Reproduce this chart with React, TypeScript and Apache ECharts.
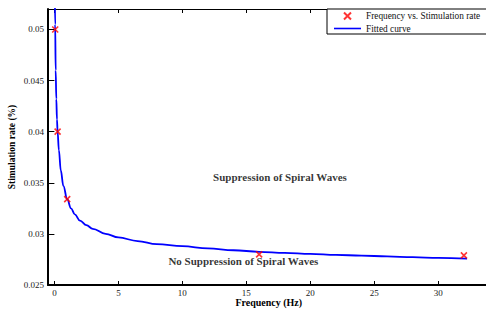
import React, { useEffect, useRef } from "react";
import * as echarts from "echarts";

// Measured points (Frequency in Hz, Stimulation rate in %)
const measuredFreq = [0.0625, 0.25, 1, 16, 32];
const measuredRate = [0.05, 0.04, 0.0334, 0.028, 0.0279];

// Fitted curve
const fitFreq = [0.03, 0.06, 0.1, 0.15, 0.2, 0.25, 0.35, 0.5, 0.7, 1, 1.3, 1.6, 2, 2.5, 3, 4, 5, 6.5, 8, 10, 12, 14, 16, 18, 20, 22, 24, 26, 28, 30, 32.25];
const fitRate = [0.054, 0.0505, 0.046, 0.0432, 0.0412, 0.04, 0.0382, 0.0362, 0.0347, 0.0334, 0.0325, 0.0319, 0.0313, 0.03085, 0.0305, 0.03, 0.02965, 0.0293, 0.029, 0.0288, 0.02858, 0.0284, 0.02825, 0.02815, 0.02805, 0.02795, 0.02787, 0.0278, 0.02772, 0.02765, 0.02758];

const xTicks = [0, 5, 10, 15, 20, 25, 30];
const yTicks = [0.025, 0.03, 0.035, 0.04, 0.045, 0.05];

const annotationText = ["Suppression of Spiral Waves", "No Suppression of Spiral Waves"];
const annotationX = [17.63, 14.77];
const annotationY = [0.03556, 0.02732];

const FONT = "'Liberation Serif', 'Times New Roman', serif";
const X_MARK = "path://M0,0L10,10M10,0L0,10";
const LINE_ICON = "path://M0,0L27,0L27,1.6L0,1.6Z";

export default function App() {
  const ref = useRef<HTMLDivElement>(null);
  useEffect(() => {
    if (!ref.current) return;
    const chart = echarts.init(ref.current, undefined, { renderer: "svg" });
    const xMin = -0.5, xMax = 34, yMin = 0.025, yMax = 0.052;
    chart.setOption({
      animation: false,
      backgroundColor: "#fff",
      grid: { left: 48, top: 9, bottom: 25, right: 0.5, containLabel: false, outerBoundsMode: "none" },
      legend: {
        data: [
          { name: "Frequency vs. Stimulation rate" },
          { name: "Fitted curve", icon: LINE_ICON },
        ],
        orient: "vertical",
        left: 327,
        top: 9,
        padding: [1, 7, 1, 7],
        itemGap: 2,
        itemWidth: 27,
        itemHeight: 7,
        symbolKeepAspect: true,
        borderColor: "#000",
        borderWidth: 1,
        backgroundColor: "#fff",
        textStyle: { fontFamily: FONT, fontSize: 9.3, color: "#111" },
      },
      xAxis: [
        {
          type: "value",
          min: xMin,
          max: xMax,
          position: "bottom",
          name: "Frequency (Hz)",
          nameLocation: "middle",
          nameGap: 12,
          nameMoveOverlap: false,
          nameTextStyle: { fontFamily: FONT, fontSize: 10, fontWeight: "bold", color: "#000" },
          axisLine: { show: true, onZero: false, lineStyle: { color: "#000", width: 2 } },
          axisTick: { show: true, inside: true, length: 4, customValues: xTicks, lineStyle: { color: "#000" } },
          axisLabel: { show: true, customValues: xTicks, margin: 3, fontFamily: FONT, fontSize: 9, color: "#222" },
          splitLine: { show: false },
        },
        {
          type: "value",
          min: xMin,
          max: xMax,
          position: "top",
          axisLine: { show: true, onZero: false, lineStyle: { color: "#000", width: 1.2 } },
          axisTick: { show: true, inside: true, length: 4, customValues: xTicks, lineStyle: { color: "#000" } },
          axisLabel: { show: false },
          splitLine: { show: false },
        },
      ],
      yAxis: [
        {
          type: "value",
          min: yMin,
          max: yMax,
          position: "left",
          name: "Stimulation rate (%)",
          nameLocation: "middle",
          nameGap: 31.5,
          nameMoveOverlap: false,
          nameTextStyle: { fontFamily: FONT, fontSize: 9.5, fontWeight: "bold", color: "#000" },
          axisLine: { show: true, onZero: false, lineStyle: { color: "#000", width: 2 } },
          axisTick: { show: true, inside: true, length: 4, customValues: yTicks, lineStyle: { color: "#000" } },
          axisLabel: {
            show: true,
            customValues: yTicks,
            margin: 4,
            fontFamily: FONT,
            fontSize: 9,
            color: "#222",
            formatter: (v: number) => String(parseFloat(v.toFixed(4))),
          },
          splitLine: { show: false },
        },
        {
          type: "value",
          min: yMin,
          max: yMax,
          position: "right",
          axisLine: { show: false },
          axisTick: { show: true, inside: true, length: 4, customValues: yTicks, lineStyle: { color: "#000" } },
          axisLabel: { show: false },
          splitLine: { show: false },
        },
      ],
      series: [
        {
          name: "Fitted curve",
          type: "line",
          xAxisIndex: 0,
          yAxisIndex: 0,
          data: fitFreq.map((f, i) => [f, fitRate[i]]),
          symbol: "none",
          smooth: 0.4,
          smoothMonotone: "x",
          clip: true,
          lineStyle: { color: "#0000ff", width: 1.8 },
          itemStyle: { color: "#0000ff" },
          z: 2,
        },
        {
          name: "Frequency vs. Stimulation rate",
          type: "scatter",
          xAxisIndex: 0,
          yAxisIndex: 0,
          data: measuredFreq.map((f, i) => [f, measuredRate[i]]),
          symbol: X_MARK,
          symbolSize: 6,
          itemStyle: { color: "none", borderColor: "#ff0000", borderWidth: 1.6 },
          z: 3,
        },
        {
          name: "annotations",
          type: "scatter",
          xAxisIndex: 0,
          yAxisIndex: 0,
          silent: true,
          symbolSize: 0,
          data: annotationText.map((t, i) => ({ value: [annotationX[i], annotationY[i]], name: t })),
          label: {
            show: true,
            position: "inside",
            formatter: (p: any) => p.name,
            fontFamily: FONT,
            fontSize: 11,
            fontWeight: "bold",
            color: "#000",
          },
          z: 4,
        },
      ],
    });
    return () => chart.dispose();
  }, []);
  return (
    <div style={{ position: "fixed", left: 0, top: 0, width: 486, height: 310, overflow: "hidden", background: "#fff" }}>
      <div ref={ref} style={{ position: "absolute", left: 0, top: 0, width: 490, height: 310 }} />
    </div>
  );
}
